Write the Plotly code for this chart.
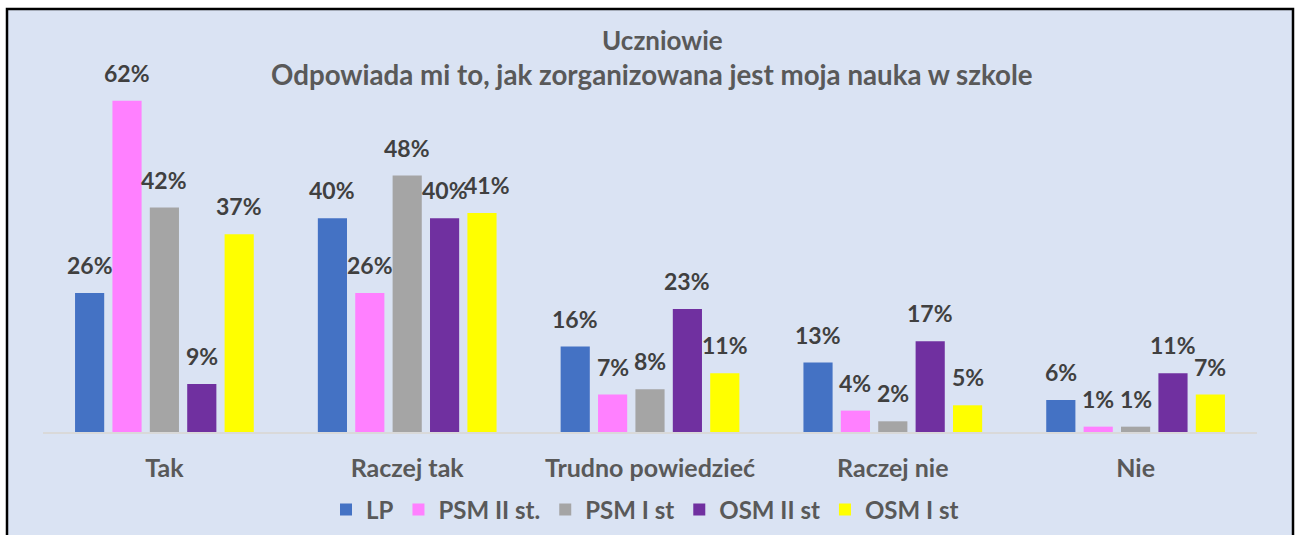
import plotly.graph_objects as go

categories = ["Tak", "Raczej tak", "Trudno powiedzieć", "Raczej nie", "Nie"]
series_names = ["LP", "PSM II st.", "PSM I st", "OSM II st", "OSM I st"]
lp = [26, 40, 16, 13, 6]
psm2 = [62, 26, 7, 4, 1]
psm1 = [42, 48, 8, 2, 1]
osm2 = [9, 40, 23, 17, 11]
osm1 = [37, 41, 11, 5, 7]
colors = ["#4472C4", "#FF80FF", "#A5A5A5", "#7030A0", "#FFFF00"]

W, H = 1296, 535
ml, mr, mt, mb = 43, 39, 58, 103
pw, ph = W - ml - mr, H - mt - mb
bargap, bargroupgap = 0.23, 0.22
yrange = [0, 70]
label_size = 23


def px(x):
    return (x - ml) / pw


def py(y):
    return (H - mb - y) / ph


series = [lp, psm2, psm1, osm2, osm1]
fig = go.Figure()
for name, vals, c in zip(series_names, series, colors):
    fig.add_trace(go.Bar(
        name=name, x=categories, y=vals, marker=dict(color=c, line=dict(width=0)),
        hoverinfo="x+y+name",
    ))

# data labels above each bar, nudged right when they would collide
group_px = pw / len(categories) * (1 - bargap)
pitch = group_px / len(series)
unit_px = ph / (yrange[1] - yrange[0])
annotations = []
for j, cat in enumerate(categories):
    prev = None  # (right edge px, bottom px, top px)
    for i, vals in enumerate(series):
        v = vals[j]
        text = f"{v}%"
        w = 13.5 * len(text)
        cx = (i - (len(series) - 1) / 2) * pitch
        bottom = v * unit_px + 12
        top = bottom + label_size * 1.1
        shift = 0
        if prev is not None:
            pr, pb, pt = prev
            if bottom < pt and top > pb and cx - w / 2 < pr + 2:
                shift = pr + 2 - (cx - w / 2)
        prev = (cx + shift + w / 2, bottom, top)
        annotations.append(dict(
            x=cat, y=v, xref="x", yref="y", text=text, showarrow=False,
            xshift=cx + shift, yanchor="bottom", yshift=12,
            font=dict(family="Lato", size=label_size, color="#404040", weight="bold"),
        ))

annotations += [
    dict(text="Uczniowie", xref="paper", yref="paper", x=px(662), y=py(40),
         xanchor="center", yanchor="middle", showarrow=False,
         font=dict(family="Lato", size=26, color="#595959", weight="bold")),
    dict(text="Odpowiada mi to, jak zorganizowana jest moja nauka w szkole",
         xref="paper", yref="paper", x=px(652), y=py(75),
         xanchor="center", yanchor="middle", showarrow=False,
         font=dict(family="Lato", size=27.7, color="#595959", weight="bold")),
]

fig.update_layout(
    width=W, height=H,
    margin=dict(l=ml, r=mr, t=mt, b=mb, pad=0, autoexpand=False),
    paper_bgcolor="white", plot_bgcolor="rgba(0,0,0,0)",
    barmode="group", bargap=bargap, bargroupgap=bargroupgap,
    showlegend=True,
    legend=dict(orientation="h", x=px(645), xanchor="center", y=py(510), yanchor="middle",
                font=dict(family="Lato", size=24, color="#595959", weight="bold"),
                bgcolor="rgba(0,0,0,0)", itemwidth=30, traceorder="normal"),
    xaxis=dict(showline=True, linecolor="#D9D9D9", linewidth=2, showgrid=False,
               ticks="", ticklabelstandoff=13, automargin=False,
               tickfont=dict(family="Lato", size=25, color="#595959", weight="bold")),
    yaxis=dict(range=yrange, visible=False, showgrid=False, zeroline=False),
    shapes=[dict(type="rect", xref="paper", yref="paper",
                 x0=px(7), x1=px(1293), y0=py(545), y1=py(9),
                 fillcolor="#DAE3F3", line=dict(color="black", width=2.5), layer="below")],
    annotations=annotations,
)

fig.write_html("out.html", config={"displayModeBar": False},
               post_script="document.body.style.margin='0';document.body.style.overflow='hidden';")
